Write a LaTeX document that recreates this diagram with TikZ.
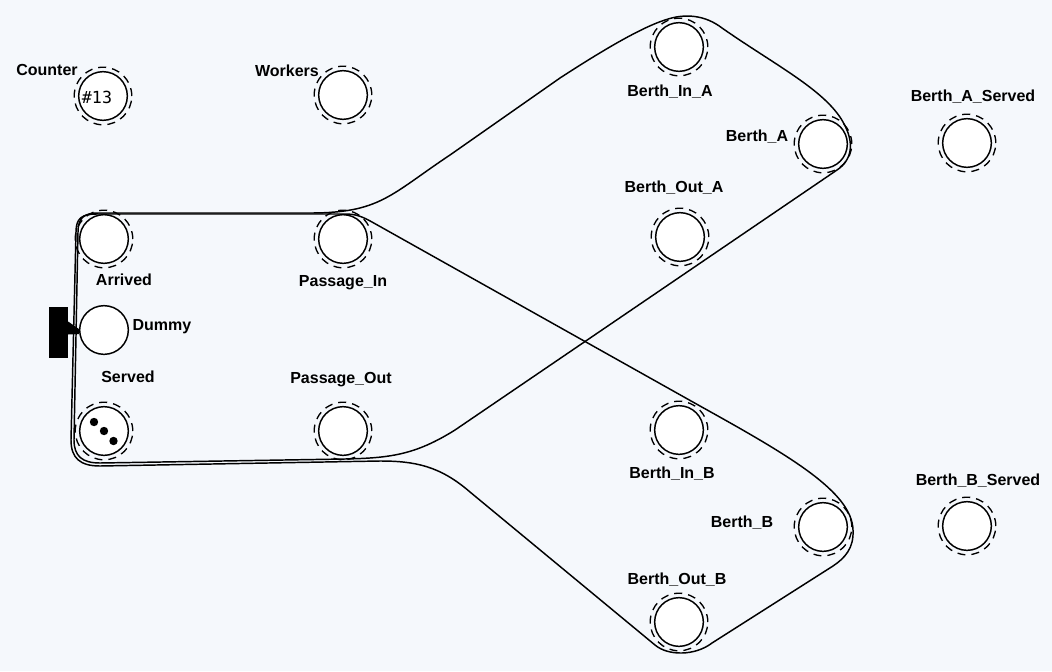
\documentclass[tikz,border=0pt]{standalone}
\usepackage{fontspec}
\setmainfont{Liberation Sans}
\newfontfamily\countfont{DejaVu Sans Mono}
\usetikzlibrary{calc}
\definecolor{canvas}{RGB}{245,248,252}
\begin{document}
\begin{tikzpicture}[x=0.75pt,y=-0.75pt,
  place/.style={circle,draw=black,fill=white,line width=1.1pt,minimum size=36.5pt,inner sep=0pt},
  ring/.style={draw=black,line width=1pt,dash pattern=on 6pt off 4.5pt},
  lbl/.style={font=\bfseries\fontsize{12}{14}\selectfont,inner sep=0pt},
  lasso/.style={draw=black,line width=1.1pt,line join=round},
  token/.style={circle,fill=black,inner sep=0pt,minimum size=6.3pt}]
\fill[canvas] (0,0) rectangle (1052,671);
\useasboundingbox (0,0) rectangle (1052,671);

% places with a dashed halo
\foreach \n/\x/\y in {counter/103/96, workers/343/95,
    arrived/104/239, served/104/431,
    passin/343/239, passout/343/431,
    berthinA/679/47, berthA/823/144, berthoutA/680/237, servedA/967/143,
    berthinB/679/430, berthB/823/527, berthoutB/679/622, servedB/967/526}{
  \node[place] (\n) at (\x,\y) {};
  \draw[ring] (\n) circle[radius=21.6pt];
}

% the dummy place and its bar
\node[place] (dummy) at (104,330) {};
\node[fill=black,minimum width=14pt,minimum height=38pt,inner sep=0pt] (bar) at (58.5,332.5) {};
\fill ($(bar.east)+(0,-11)$) -- ($(dummy.west)+(0,-1)$) -- ($(dummy.west)+(0,4)$) -- ($(bar.east)+(0,2)$) -- cycle;

% marking
\node[font=\countfont\fontsize{12.5}{14}\selectfont,inner sep=0pt] (count) at (97,97) {\#13};
\node[token] (tokA) at (94,422) {};
\node[token] (tokB) at (104,431) {};
\node[token] (tokC) at (113.5,441) {};

% labels
\node[lbl] (lcounter) at (47,70) {Counter};
\node[lbl] (lworkers) at (287,71) {Workers};
\node[lbl] (larrived) at (124,280) {Arrived};
\node[lbl] (ldummy) at (162,327) {Dummy};
\node[lbl] (lserved) at (128,377) {Served};
\node[lbl] (lpassin) at (343,283) {Passage\_In};
\node[lbl] (lpassout) at (341,380) {Passage\_Out};
\node[lbl] (lberthinA) at (670,92) {Berth\_In\_A};
\node[lbl] (lberthA) at (757,137) {Berth\_A};
\node[lbl] (lberthoutA) at (674,188) {Berth\_Out\_A};
\node[lbl] (lservedA) at (973,97) {Berth\_A\_Served};
\node[lbl] (lberthinB) at (672,474) {Berth\_In\_B};
\node[lbl] (lberthB) at (742,523) {Berth\_B};
\node[lbl] (lberthoutB) at (677,580) {Berth\_Out\_B};
\node[lbl] (lservedB) at (978,481) {Berth\_B\_Served};

% loop through berth A
\draw[lasso] (78,232) .. controls (78,218) and (84,213) .. (98,213)
  -- (310,213) .. controls (380,213) and (390,195) .. (450,155)
  -- (560,78) .. controls (600,52) and (640,28) .. (665,20)
  .. controls (685,13) and (705,15) .. (722,28)
  .. controls (775,65) and (825,90) .. (843,122)
  .. controls (855,143) and (852,160) .. (837,170)
  -- (455,430) .. controls (415,455) and (390,458) .. (345,459)
  -- (100,463) .. controls (82,463) and (74,456) .. (74,440)
  -- cycle;

% loop through berth B
\draw[lasso] (76,232) .. controls (76,218) and (82,214) .. (97,214)
  -- (345,214) .. controls (356,214) and (362,216.5) .. (372,222)
  -- (700,406) .. controls (790,456) and (852,492) .. (853,530)
  .. controls (854,548) and (845,558) .. (833,566)
  -- (712,643) .. controls (695,656) and (668,656) .. (655,645)
  -- (470,492) .. controls (440,466) and (415,461) .. (380,461)
  -- (100,466) .. controls (80,466) and (71,458) .. (71,440)
  -- cycle;
\end{tikzpicture}
\end{document}
